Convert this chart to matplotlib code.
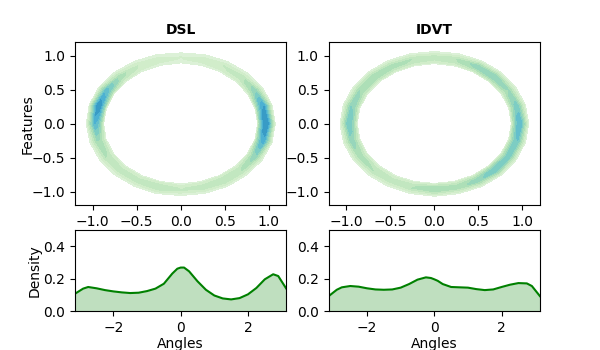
import numpy as np
import matplotlib
matplotlib.use("Agg")
import matplotlib.pyplot as plt

# angle density curves
angles = [-3.14, -2.9, -2.75, -2.5, -2.25, -2.0, -1.75, -1.5, -1.25, -1.0, -0.75, -0.5, -0.25,
          -0.1, 0.0, 0.1, 0.25, 0.5, 0.75, 1.0, 1.25, 1.5, 1.75, 2.0, 2.25, 2.5, 2.75, 2.9, 3.14]
dsl_density = [0.109, 0.14, 0.15, 0.142, 0.131, 0.123, 0.117, 0.113, 0.115, 0.125, 0.14, 0.17, 0.232,
               0.262, 0.269, 0.269, 0.246, 0.185, 0.133, 0.098, 0.08, 0.074, 0.082, 0.105, 0.144, 0.197,
               0.228, 0.217, 0.14]
idvt_density = [0.094, 0.133, 0.148, 0.156, 0.152, 0.142, 0.135, 0.133, 0.135, 0.146, 0.168, 0.195, 0.209,
                0.205, 0.197, 0.188, 0.168, 0.15, 0.148, 0.146, 0.137, 0.131, 0.135, 0.15, 0.164, 0.174,
                0.172, 0.156, 0.094]

# feature ring: relative intensity every 15 degrees (0..345), read from the 2D kde
ring_deg = [0, 15, 30, 45, 60, 75, 90, 105, 120, 135, 150, 165,
            180, 195, 210, 225, 240, 255, 270, 285, 300, 315, 330, 345]
dsl_ring = [1.0, 0.85, 0.5, 0.3, 0.25, 0.2, 0.15, 0.2, 0.25, 0.4, 0.7, 0.95,
            0.75, 0.45, 0.35, 0.3, 0.3, 0.35, 0.25, 0.3, 0.35, 0.35, 0.5, 0.8]
idvt_ring = [0.75, 0.6, 0.45, 0.55, 0.5, 0.35, 0.3, 0.35, 0.4, 0.45, 0.45, 0.55,
             0.65, 0.5, 0.4, 0.35, 0.3, 0.35, 0.45, 0.4, 0.5, 0.65, 0.6, 0.65]
# radial spread of the ring
ring_r = [0.87, 0.9, 0.95, 0.98, 1.03, 1.08]
ring_w = [0.0, 0.5, 0.95, 1.0, 0.5, 0.0]

titles = ["DSL", "IDVT"]

fig = plt.figure(figsize=(6, 3.5), dpi=100)
gs = fig.add_gridspec(2, 2, height_ratios=[2, 1], left=0.125, right=0.9,
                      top=0.88, bottom=0.11, wspace=0.2, hspace=0.2)

levels = [0.06, 0.15, 0.25, 0.35, 0.45, 0.55, 0.65, 0.75, 0.85, 1.01]
cols = plt.cm.GnBu(np.linspace(0.15, 0.7, len(levels) - 1))

for i, (ring, dens) in enumerate([(dsl_ring, dsl_density), (idvt_ring, idvt_density)]):
    ax = fig.add_subplot(gs[0, i])
    th = np.deg2rad(np.append(ring_deg, 360))
    vals = np.append(ring, ring[0])
    T, R = np.meshgrid(th, ring_r)
    Z = np.outer(ring_w, vals)
    ax.contourf(R * np.cos(T), R * np.sin(T), Z, levels=levels, colors=cols)
    ax.set_xlim(-1.2, 1.2)
    ax.set_ylim(-1.2, 1.2)
    ax.set_title(titles[i], fontweight="bold", fontsize=10)
    if i == 0:
        ax.set_ylabel("Features", labelpad=-2.5)

    bx = fig.add_subplot(gs[1, i])
    bx.plot(angles, dens, color="green", lw=1.5)
    bx.fill_between(angles, dens, color="green", alpha=0.25, lw=0)
    bx.set_xlim(-np.pi, np.pi)
    bx.set_ylim(0, 0.5)
    bx.set_yticks([0.0, 0.2, 0.4])
    bx.set_xlabel("Angles", labelpad=1)
    if i == 0:
        bx.set_ylabel("Density", labelpad=1)

fig.savefig("out.png", dpi=100)
